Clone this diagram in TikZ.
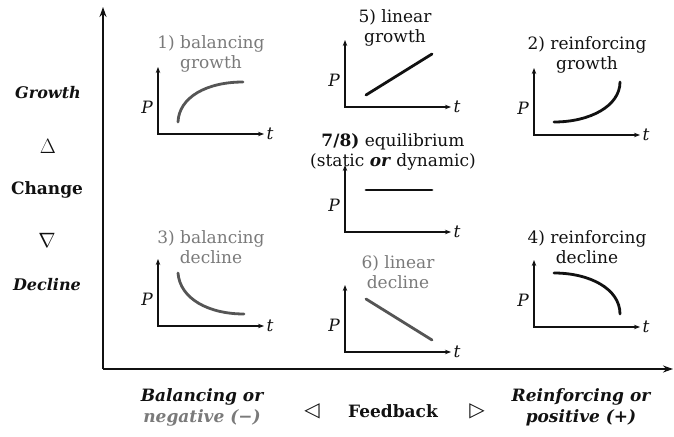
\documentclass[tikz,border=0pt]{standalone}
\usepackage{fontspec}
\setmainfont{DejaVu Serif}
\newfontfamily\symfont{DejaVu Sans}
\usetikzlibrary{arrows.meta}
\definecolor{ink}{HTML}{111111}
\definecolor{muted}{HTML}{7A7A7A}
\definecolor{curvegray}{HTML}{555555}

\begin{document}
\begin{tikzpicture}[x=1pt,y=-1pt,>=Stealth,
  every node/.style={font=\fontsize{17}{20}\selectfont,align=center,text=ink},
  bigtext/.style={font=\fontsize{17}{20}\selectfont\bfseries},
  miniax/.style={line width=1.3pt,draw=ink,{Stealth[length=6pt,width=4.5pt]}-{Stealth[length=6pt,width=4.5pt]}},
  trend/.style={line width=2.8pt,line cap=round,draw=ink}]
\useasboundingbox (0,0) rectangle (674,436);
% main axes
\coordinate (corner) at (103,369);
\coordinate (vtop) at (103,7);
\coordinate (hend) at (673,369);
\draw[line width=1.8pt,draw=ink,-{Stealth[length=10pt,width=7pt]}] (corner) -- (vtop);
\draw[line width=1.8pt,draw=ink,-{Stealth[length=10pt,width=7pt]}] (corner) -- (hend);
% left side
\node[bigtext,font=\fontsize{16}{19}\selectfont\bfseries\itshape] (growth) at (48,93) {Growth};
\node[font=\fontsize{22}{24}\selectfont] (up) at (48,146) {$\Delta$};
\node[bigtext] (change) at (47,190) {Change};
\node[font=\fontsize{22}{24}\selectfont] (down) at (47,240) {$\nabla$};
\node[bigtext,font=\fontsize{16}{19}\selectfont\bfseries\itshape] (decline) at (47,285) {Decline};
% bottom
\node[font=\fontsize{17}{21}\selectfont\bfseries\itshape] (balfb) at (202,407) {Balancing or\\\textcolor{muted}{negative (−)}};
\node[font=\fontsize{20}{22}\selectfont] (lefttri) at (312,411) {\symfont ◁};
\node[bigtext] (feedback) at (393,411) {Feedback};
\node[font=\fontsize{20}{22}\selectfont] (righttri) at (477,411) {\symfont ▷};
\node[font=\fontsize{17}{21}\selectfont\bfseries\itshape] (reinfb) at (581,407) {Reinforcing or\\positive (+)};
% small plots
\foreach \n/\x/\y in {1/158/134,5/345/107,2/534/135,78/345/232,3/158/326,6/345/352,4/534/327}{
\coordinate (o\n) at (\x,\y);
\draw[miniax] (\x,\y-67) |- (\x+106,\y);
\node at (\x-11,\y-27) {\itshape P};
\node at (\x+112,\y) {\itshape t};}
% titles
\node[text=muted] (lab1) at (211,54) {1) balancing\\growth};
\node (lab5) at (395,28) {5) linear\\growth};
\node (lab2) at (587,55) {2) reinforcing\\growth};
\node (lab78) at (393,152) {\textbf{7/8)} equilibrium\\(static \textbf{\itshape or} dynamic)};
\node[text=muted] (lab3) at (211,247) {3) balancing\\decline};
\node[text=muted] (lab6) at (398,272) {6) linear\\decline};
\node (lab4) at (587,247) {4) reinforcing\\decline};
% trends
\draw[trend,draw=curvegray] (178,122) .. controls (179,97) and (207,82) .. (243,82);
\draw[trend] (366,95) -- (432,54);
\draw[trend] (554,122) .. controls (590,122) and (620,106) .. (620,82);
\draw[trend] (366,190) -- (432,190);
\draw[trend,draw=curvegray] (178,273) .. controls (180,299) and (209,314) .. (244,314);
\draw[trend,draw=curvegray] (366,299) -- (432,340);
\draw[trend] (554,273) .. controls (590,273) and (620,289) .. (620,314);
\end{tikzpicture}
\end{document}
